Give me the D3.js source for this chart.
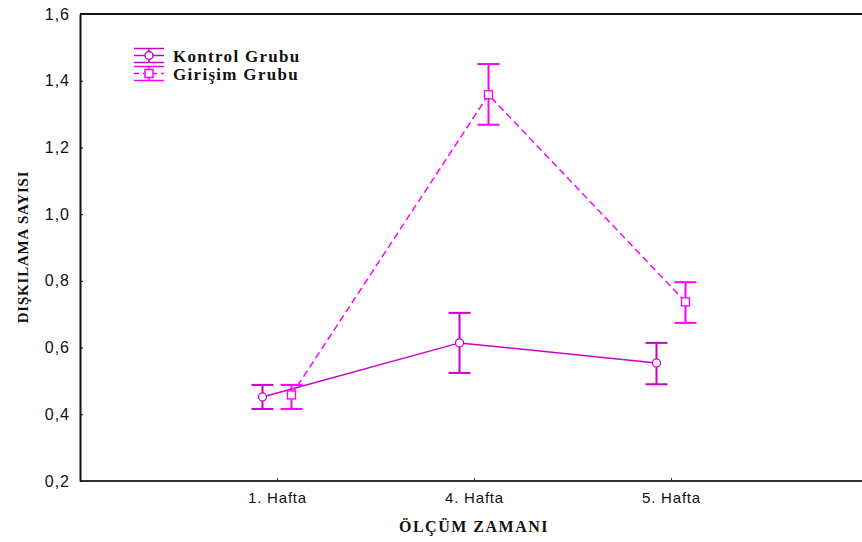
<!DOCTYPE html>
<html>
<head>
<meta charset="utf-8">
<script src="https://cdn.jsdelivr.net/npm/d3@7"></script>
<style>
  html, body { margin: 0; padding: 0; background: #fff; }
  svg { display: block; }
</style>
</head>
<body>
<script>
// Measurement weeks and group means with error bar limits
const weeks = ["1. Hafta", "4. Hafta", "5. Hafta"];
const kontrolMean = [0.452, 0.614, 0.554];
const kontrolLow  = [0.416, 0.524, 0.490];
const kontrolHigh = [0.488, 0.704, 0.614];
const girisimMean = [0.458, 1.358, 0.737];
const girisimLow  = [0.416, 1.268, 0.674];
const girisimHigh = [0.488, 1.450, 0.796];
const yTicks = [0.2, 0.4, 0.6, 0.8, 1.0, 1.2, 1.4, 1.6];
const groupNames = ["Kontrol Grubu", "Girişim Grubu"];

const W = 862, H = 542;
const svg = d3.select("body").append("svg").attr("width", W).attr("height", H);

const plotLeft = 80, plotTop = 14, plotBottom = 481;
const y = d3.scaleLinear().domain([0.2, 1.6]).range([plotBottom, plotTop]);
const x = d3.scaleLinear().domain([0, 4]).range([plotLeft, 868]);
const offset = 14.5;

const groups = [
  { name: groupNames[0], mean: kontrolMean, lo: kontrolLow, hi: kontrolHigh,
    color: "#cc00cc", dash: null, dx: -offset, shape: "circle" },
  { name: groupNames[1], mean: girisimMean, lo: girisimLow, hi: girisimHigh,
    color: "#ff00ff", dash: "7,4", dx: offset, shape: "square" }
];

// Frame: top and bottom lines
svg.append("line").attr("x1", plotLeft).attr("x2", W).attr("y1", plotTop).attr("y2", plotTop)
  .attr("stroke", "#111").attr("stroke-width", 2);
svg.append("line").attr("x1", plotLeft).attr("x2", W).attr("y1", plotBottom).attr("y2", plotBottom)
  .attr("stroke", "#333").attr("stroke-width", 2);

// Y axis with inward ticks
const yAxis = d3.axisRight(y).tickValues(yTicks).tickSize(3).tickSizeOuter(0)
  .tickFormat(d => d3.format(".1f")(d).replace(".", ","));
const gy = svg.append("g").attr("transform", `translate(${plotLeft},0)`).call(yAxis);
gy.select(".domain").attr("stroke", "#111").attr("stroke-width", 2);
gy.selectAll(".tick line").attr("stroke", "#111");
gy.selectAll(".tick text")
  .attr("x", -10).attr("text-anchor", "end")
  .attr("font-family", "Liberation Sans, Arial, sans-serif")
  .attr("font-size", 16).attr("letter-spacing", "1px").attr("fill", "#111");

// X axis with inward ticks
const xAxis = d3.axisTop(x).tickValues([1, 2, 3]).tickSize(3)
  .tickFormat((d, i) => weeks[i]);
const gx = svg.append("g").attr("transform", `translate(0,${plotBottom})`).call(xAxis);
gx.select(".domain").remove();
gx.selectAll(".tick line").attr("stroke", "#333");
gx.selectAll(".tick text")
  .attr("y", 11).attr("dy", "0.71em")
  .attr("font-family", "Liberation Sans, Arial, sans-serif")
  .attr("font-size", 15).attr("letter-spacing", "0.8px").attr("fill", "#111");

// Axis titles
svg.append("text").attr("x", 474).attr("y", 532).attr("text-anchor", "middle")
  .attr("font-family", "Liberation Serif, Times New Roman, serif")
  .attr("font-weight", "bold").attr("font-size", 16).attr("letter-spacing", "1.5px")
  .attr("fill", "#111").text("ÖLÇÜM ZAMANI");
svg.append("text")
  .attr("transform", `translate(28,247) rotate(-90)`)
  .attr("text-anchor", "middle")
  .attr("font-family", "Liberation Serif, Times New Roman, serif")
  .attr("font-weight", "bold").attr("font-size", 15).attr("letter-spacing", "0.8px")
  .attr("fill", "#111").text("DIŞKILAMA SAYISI");

const capW = 11;
const idx = d3.range(weeks.length);

groups.forEach(g => {
  const px = i => x(i + 1) + g.dx;
  // connecting line
  svg.append("path")
    .datum(idx)
    .attr("d", d3.line().x(i => px(i)).y(i => y(g.mean[i])))
    .attr("fill", "none").attr("stroke", g.color).attr("stroke-width", 1.5)
    .attr("stroke-dasharray", g.dash);
  // error bars
  const eb = svg.append("g").attr("stroke", g.color).attr("stroke-width", 2);
  eb.selectAll("line.v").data(idx).join("line").attr("class", "v")
    .attr("x1", px).attr("x2", px)
    .attr("y1", i => y(g.lo[i])).attr("y2", i => y(g.hi[i]));
  eb.selectAll("line.lo").data(idx).join("line").attr("class", "lo")
    .attr("x1", i => px(i) - capW).attr("x2", i => px(i) + capW)
    .attr("y1", i => y(g.lo[i])).attr("y2", i => y(g.lo[i]));
  eb.selectAll("line.hi").data(idx).join("line").attr("class", "hi")
    .attr("x1", i => px(i) - capW).attr("x2", i => px(i) + capW)
    .attr("y1", i => y(g.hi[i])).attr("y2", i => y(g.hi[i]));
  // markers
  if (g.shape === "circle") {
    svg.append("g").selectAll("circle").data(idx).join("circle")
      .attr("cx", px).attr("cy", i => y(g.mean[i])).attr("r", 4)
      .attr("fill", "#fff").attr("stroke", g.color).attr("stroke-width", 1.3);
  } else {
    svg.append("g").selectAll("rect").data(idx).join("rect")
      .attr("x", i => px(i) - 4).attr("y", i => y(g.mean[i]) - 4)
      .attr("width", 8).attr("height", 8)
      .attr("fill", "#fff").attr("stroke", g.color).attr("stroke-width", 1.3);
  }
});

// Legend
const leg = svg.append("g");
groups.forEach((g, k) => {
  const cy = 55.5 + k * 18, cx = 149, half = 15;
  const s = leg.append("g").attr("stroke", g.color).attr("stroke-width", 1.5);
  s.append("line").attr("x1", cx - half).attr("x2", cx + half).attr("y1", cy - 7).attr("y2", cy - 7);
  s.append("line").attr("x1", cx - half).attr("x2", cx + half).attr("y1", cy + 7).attr("y2", cy + 7);
  s.append("line").attr("x1", cx).attr("x2", cx).attr("y1", cy - 7).attr("y2", cy + 7);
  s.append("line").attr("x1", cx - half).attr("x2", cx + half).attr("y1", cy).attr("y2", cy)
    .attr("stroke-dasharray", g.dash ? "5,4" : null);
  if (g.shape === "circle") {
    s.append("circle").attr("cx", cx).attr("cy", cy).attr("r", 4).attr("fill", "#fff");
  } else {
    s.append("rect").attr("x", cx - 4).attr("y", cy - 4).attr("width", 8).attr("height", 8).attr("fill", "#fff");
  }
  leg.append("text").attr("x", 173).attr("y", cy + 6)
    .attr("font-family", "Liberation Serif, Times New Roman, serif")
    .attr("font-weight", "bold").attr("font-size", 17).attr("letter-spacing", "1.3px")
    .attr("fill", "#111").text(g.name);
});
</script>
</body>
</html>
